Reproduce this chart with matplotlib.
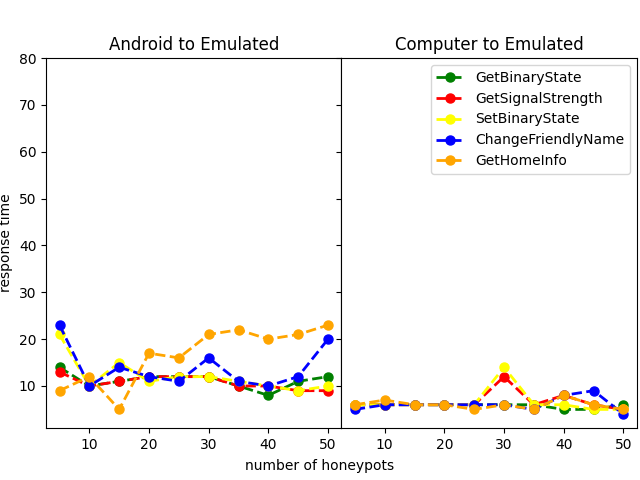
import matplotlib
matplotlib.use('Agg')
import matplotlib.pyplot as plt

honeypots = [5, 10, 15, 20, 25, 30, 35, 40, 45, 50]
labels = ['GetBinaryState', 'GetSignalStrength', 'SetBinaryState',
          'ChangeFriendlyName', 'GetHomeInfo']
colors = ['green', 'red', 'yellow', 'blue', 'orange']

# Android to Emulated
android_get_binary = [14, 10, 11, 12, 12, 12, 10, 8, 11, 12]
android_get_signal = [13, 10, 11, 12, 12, 12, 10, 10, 9, 9]
android_set_binary = [21, 10, 15, 11, 12, 12, 11, 10, 9, 10]
android_change_name = [23, 10, 14, 12, 11, 16, 11, 10, 12, 20]
android_home_info = [9, 12, 5, 17, 16, 21, 22, 20, 21, 23]

# Computer to Emulated
computer_get_binary = [6, 6, 6, 6, 6, 6, 6, 5, 5, 6]
computer_get_signal = [6, 6, 6, 6, 6, 12, 6, 8, 6, 5]
computer_set_binary = [6, 6, 6, 6, 6, 14, 6, 6, 5, 5]
computer_change_name = [5, 6, 6, 6, 6, 6, 5, 8, 9, 4]
computer_home_info = [6, 7, 6, 6, 5, 6, 5, 8, 6, 5]

android = [android_get_binary, android_get_signal, android_set_binary,
           android_change_name, android_home_info]
computer = [computer_get_binary, computer_get_signal, computer_set_binary,
            computer_change_name, computer_home_info]

fig, (ax1, ax2) = plt.subplots(1, 2, sharey=True, figsize=(6.4, 4.8), dpi=100)
fig.subplots_adjust(left=0.072, right=0.995, top=0.879, bottom=0.108, wspace=0)

for vals, lab, c in zip(android, labels, colors):
    ax1.plot(honeypots, vals, '--o', color=c, label=lab, linewidth=2, markersize=6.5)
for vals, lab, c in zip(computer, labels, colors):
    ax2.plot(honeypots, vals, '--o', color=c, label=lab, linewidth=2, markersize=6.5)

ax1.set_ylim(1, 80)
ax1.set_title('Android to Emulated')
ax2.set_title('Computer to Emulated')
ax1.set_ylabel('response time')
fig.text(0.5, 0.02, 'number of honeypots', ha='center')
ax2.legend(loc='upper right')

plt.savefig('out.png')
